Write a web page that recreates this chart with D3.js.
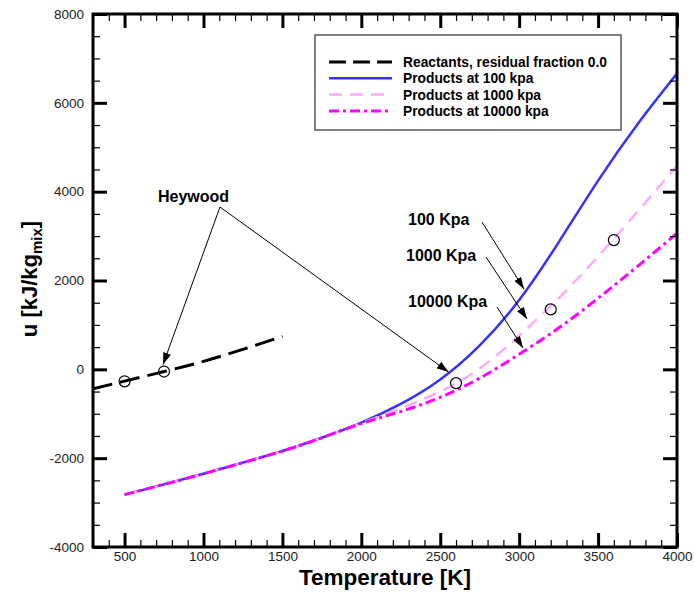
<!DOCTYPE html>
<html><head><meta charset="utf-8">
<script src="https://cdn.jsdelivr.net/npm/d3@7"></script>
<style>body{margin:0;background:#fff}svg{display:block}text{font-family:"Liberation Sans",Arial,sans-serif}</style>
</head><body><svg id="c" width="694" height="598"></svg>
<script>
const temps = [500, 750, 1000, 1250, 1500, 1750, 2000, 2250, 2500, 2750, 3000, 3250, 3500, 3750, 4000];
const products100 = [-2820, -2590, -2350, -2100, -1840, -1540, -1200, -780, -230, 540, 1560, 2860, 4250, 5520, 6660];
const products1000 = [-2820, -2590, -2350, -2100, -1840, -1540, -1210, -880, -500, 20, 760, 1600, 2540, 3550, 4580];
const products10000 = [-2820, -2590, -2350, -2100, -1840, -1540, -1220, -950, -630, -200, 340, 930, 1600, 2320, 3060];
const reactT = [300, 500, 750, 1000, 1250, 1500];
const reactants = [-440, -265, -50, 180, 450, 740];
const heywoodT = [500, 750, 2600, 3200, 3600];
const heywoodU = [-270, -50, -310, 1350, 2910];
const xTicks = [500, 1000, 1500, 2000, 2500, 3000, 3500, 4000];
const yTicks = [-4000, -2000, 0, 2000, 4000, 6000, 8000];
const legendLabels = ["Reactants, residual fraction 0.0", "Products at 100 kpa", "Products at 1000 kpa", "Products at 10000 kpa"];

const svg = d3.select("#c");
const L = 93, R = 677, T = 14, B = 547;
const x = d3.scaleLinear().domain([300, 4000]).range([L, R]);
const y = d3.scaleLinear().domain([-4000, 8000]).range([B, T]);

const defs = svg.append("defs");
defs.append("clipPath").attr("id","clip").append("rect")
  .attr("x", L).attr("y", T).attr("width", R-L).attr("height", B-T);
defs.append("marker").attr("id","arr").attr("viewBox","0 0 12 8").attr("refX",12).attr("refY",4)
  .attr("markerWidth",12).attr("markerHeight",8).attr("markerUnits","userSpaceOnUse").attr("orient","auto")
  .append("path").attr("d","M0,0 L12,4 L0,8 Z").attr("fill","#000");

const styles = [
  {color:"#000000", w:3, dash:"20,8"},
  {color:"#3333ff", w:2.5, dash:null},
  {color:"#ffaaff", w:2.5, dash:"13,8"},
  {color:"#ff00ff", w:3, dash:"10,4,3,4"}
];

const line = d3.line().x(d=>x(d[0])).y(d=>y(d[1])).curve(d3.curveNatural);
const g = svg.append("g").attr("clip-path","url(#clip)");
const series = [
  d3.zip(reactT, reactants),
  d3.zip(temps, products100),
  d3.zip(temps, products1000),
  d3.zip(temps, products10000)
];
[1,2,3,0].forEach(i=>{
  g.append("path").datum(series[i]).attr("d", line).attr("fill","none")
   .attr("stroke", styles[i].color).attr("stroke-width", styles[i].w)
   .attr("stroke-dasharray", styles[i].dash);
});

g.selectAll("circle.h").data(d3.zip(heywoodT, heywoodU)).join("circle")
  .attr("cx", d=>x(d[0])).attr("cy", d=>y(d[1])).attr("r", 5.5)
  .attr("fill","none").attr("stroke","#000").attr("stroke-width",1.2);

const minorX = d3.range(300, 4001, 100).filter(v=>v%500!==0);
const minorY = d3.range(-4000, 8001, 500).filter(v=>v%2000!==0);
function axisSet(gen, scale, major, minor, transform, labels, pad){
  const gMin = svg.append("g").attr("transform", transform)
    .call(gen(scale).tickValues(minor).tickSize(-7).tickFormat(""));
  gMin.selectAll(".tick line").attr("stroke","#000").attr("stroke-width",1.2);
  gMin.select(".domain").remove();
  const gMaj = svg.append("g").attr("transform", transform)
    .call(gen(scale).tickValues(major).tickSize(-14).tickPadding(pad||0).tickFormat(labels?(d=>String(d)):""));
  gMaj.selectAll(".tick line").attr("stroke","#000").attr("stroke-width",3);
  gMaj.select(".domain").remove();
  gMaj.selectAll("text").attr("font-size",13.5).attr("fill","#222");
  return gMaj;
}
axisSet(d3.axisBottom, x, xTicks, minorX, `translate(0,${B})`, true, 4);
axisSet(d3.axisTop, x, xTicks, minorX, `translate(0,${T})`, false);
axisSet(d3.axisLeft, y, yTicks, minorY, `translate(${L},0)`, true, 9);
axisSet(d3.axisRight, y, yTicks, minorY, `translate(${R},0)`, false);
svg.append("rect").attr("x",L).attr("y",T).attr("width",R-L).attr("height",B-T)
  .attr("fill","none").attr("stroke","#000").attr("stroke-width",3);

svg.append("text").attr("x", 385).attr("y", 585).attr("text-anchor","middle")
  .attr("font-size",22.5).attr("font-weight","bold").text("Temperature [K]");
const yl = svg.append("text").attr("transform","translate(37,279) rotate(-90)").attr("text-anchor","middle")
  .attr("font-size",22).attr("font-weight","bold");
yl.append("tspan").text("u [kJ/kg");
yl.append("tspan").attr("font-size",15).attr("dy",5).text("mix");
yl.append("tspan").attr("dy",-5).text("]");

const lg = svg.append("g");
lg.append("rect").attr("x",315).attr("y",35).attr("width",306).attr("height",95)
  .attr("fill","#fff").attr("stroke","#555").attr("stroke-width",1.5);
legendLabels.forEach((t,i)=>{
  const yy = 62 + i*16.3;
  lg.append("line").attr("x1",329).attr("x2",392).attr("y1",yy).attr("y2",yy)
    .attr("stroke",styles[i].color).attr("stroke-width",styles[i].w)
    .attr("stroke-dasharray", i===0?"17,7":styles[i].dash);
  lg.append("text").attr("x",403).attr("y",yy+5).attr("font-size",13.8).attr("font-weight","bold").text(t);
});

const ann = svg.append("g");
function arrow(x1,y1,x2,y2){
  ann.append("line").attr("x1",x1).attr("y1",y1).attr("x2",x2).attr("y2",y2)
    .attr("stroke","#000").attr("stroke-width",1).attr("marker-end","url(#arr)");
}
ann.append("text").attr("x",158).attr("y",202)
  .attr("font-size",16).attr("font-weight","bold").text("Heywood");
arrow(220,207, x(750)-1, y(-50)-7);
arrow(220,207, x(2540)+2, y(-150)-4);
ann.append("text").attr("x",408).attr("y",225).attr("font-size",16).attr("font-weight","bold").text("100 Kpa");
arrow(482,222,524,289);
ann.append("text").attr("x",406).attr("y",261).attr("font-size",16).attr("font-weight","bold").text("1000 Kpa");
arrow(486,257,527,319);
ann.append("text").attr("x",408).attr("y",307).attr("font-size",16).attr("font-weight","bold").text("10000 Kpa");
arrow(497,307,523,348);
</script></body></html>
